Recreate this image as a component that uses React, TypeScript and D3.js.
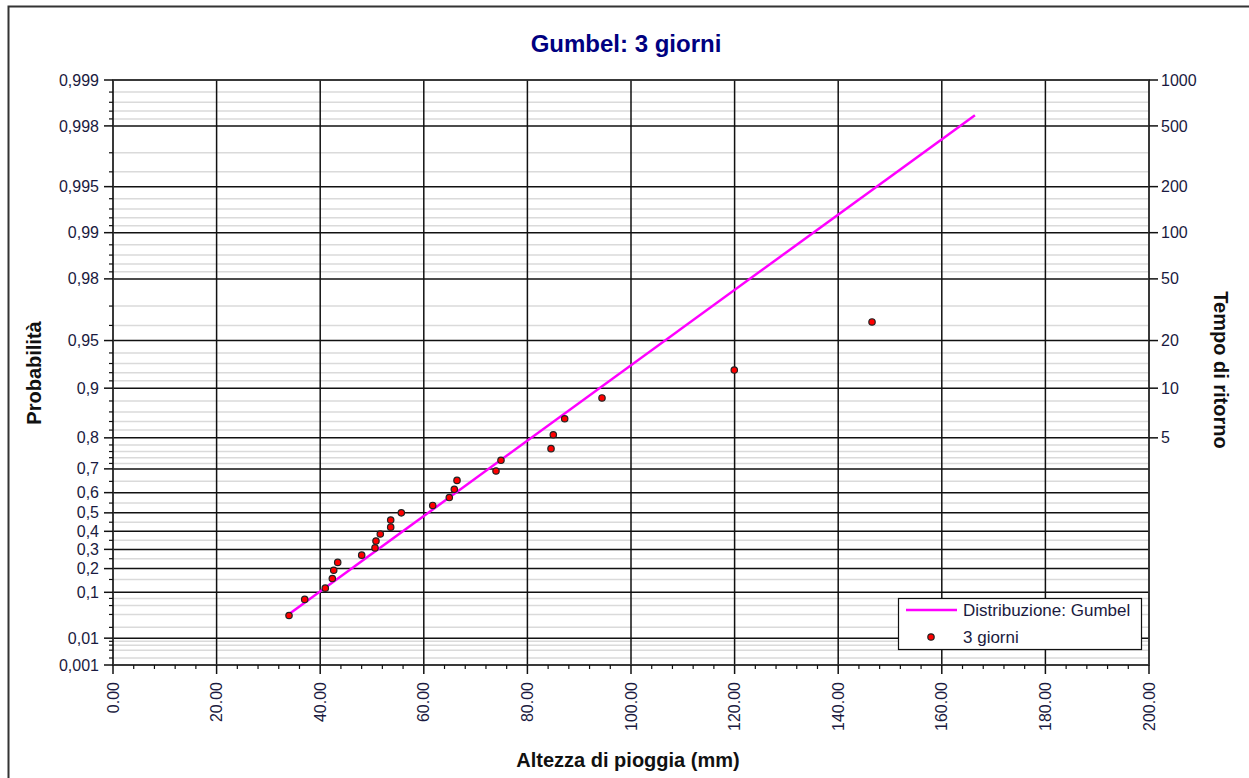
import React, { useRef, useEffect } from 'react';
import * as d3 from 'd3';

// observed rainfall heights (mm), sorted, with their plotting probabilities
const rainMm = [33.98, 37.01, 40.98, 42.34, 42.61, 43.38, 48.01, 50.58, 50.77, 51.6, 53.61, 53.61, 55.66,
  61.72, 64.92, 65.89, 66.41, 73.94, 74.9, 84.56, 85.0, 87.2, 94.4, 119.94, 146.53];
const rainProb = [0.038, 0.077, 0.115, 0.154, 0.192, 0.231, 0.269, 0.308, 0.346, 0.385, 0.423, 0.462, 0.5,
  0.538, 0.577, 0.615, 0.654, 0.692, 0.731, 0.769, 0.808, 0.846, 0.885, 0.923, 0.962];

// fitted Gumbel distribution (straight in this paper), ends of the drawn segment
const fitMm = [34.0, 166.4];
const fitProb = [0.041, 0.9983];

const majorProbs = [0.001, 0.01, 0.1, 0.2, 0.3, 0.4, 0.5, 0.6, 0.7, 0.8, 0.9, 0.95, 0.98, 0.99, 0.995, 0.998, 0.999];
const minorProbs = [0.002, 0.004, 0.006, 0.008, 0.02, 0.04, 0.06, 0.08, 0.15, 0.25, 0.35, 0.45, 0.55, 0.65,
  0.72, 0.74, 0.76, 0.78, 0.82, 0.84, 0.86, 0.88, 0.91, 0.92, 0.93, 0.94, 0.96, 0.97,
  0.982, 0.984, 0.986, 0.988, 0.991, 0.992, 0.993, 0.994, 0.996, 0.997, 0.9982, 0.9984, 0.9986, 0.9988];
const returnPeriods = [5, 10, 20, 50, 100, 200, 500, 1000];
const xTicks = [0, 20, 40, 60, 80, 100, 120, 140, 160, 180, 200];

const W = 1249;
const H = 778;
const FONT = "'Liberation Sans', Arial, sans-serif";

export default function App() {
  const svgRef = useRef<SVGSVGElement>(null);

  useEffect(() => {
    const svg = d3.select(svgRef.current);
    svg.selectAll('*').remove();

    const left = 113, right = 1149, top = 80, bottom = 665;
    const x = d3.scaleLinear().domain([0, 200]).range([left, right]);
    const gumbel = (p: number) => -Math.log(-Math.log(p));
    const yv = d3.scaleLinear().domain([gumbel(0.001), gumbel(0.999)]).range([bottom, top]);
    const y = (p: number) => yv(gumbel(p));

    svg.append('rect').attr('width', W).attr('height', H).attr('fill', '#fff');
    // outer frame
    svg.append('rect')
      .attr('x', 8.5).attr('y', 6.5).attr('width', W + 20).attr('height', H + 20)
      .attr('fill', 'none').attr('stroke', '#333').attr('stroke-width', 2);

    // minor horizontal grid
    svg.append('g').selectAll('line').data(minorProbs).join('line')
      .attr('x1', left).attr('x2', right)
      .attr('y1', d => y(d)).attr('y2', d => y(d))
      .attr('stroke', '#dadada').attr('stroke-width', 1.5);

    // major horizontal grid
    svg.append('g').selectAll('line').data(majorProbs).join('line')
      .attr('x1', left).attr('x2', right)
      .attr('y1', d => y(d)).attr('y2', d => y(d))
      .attr('stroke', '#111').attr('stroke-width', 1.5);

    // vertical grid
    svg.append('g').selectAll('line').data(xTicks).join('line')
      .attr('x1', d => x(d)).attr('x2', d => x(d))
      .attr('y1', top).attr('y2', bottom)
      .attr('stroke', '#111').attr('stroke-width', 1.5);

    // plot frame
    svg.append('rect')
      .attr('x', left).attr('y', top).attr('width', right - left).attr('height', bottom - top)
      .attr('fill', 'none').attr('stroke', '#333').attr('stroke-width', 1.5);

    // left axis
    const ly = svg.append('g');
    ly.selectAll('line.maj').data(majorProbs).join('line').attr('class', 'maj')
      .attr('x1', left - 9).attr('x2', left)
      .attr('y1', d => y(d)).attr('y2', d => y(d))
      .attr('stroke', '#111').attr('stroke-width', 1.5);
    ly.selectAll('line.min').data(minorProbs).join('line').attr('class', 'min')
      .attr('x1', left - 4).attr('x2', left)
      .attr('y1', d => y(d)).attr('y2', d => y(d))
      .attr('stroke', '#111').attr('stroke-width', 1.2);
    ly.selectAll('text').data(majorProbs).join('text')
      .attr('x', left - 14).attr('y', d => y(d)).attr('dy', '0.35em')
      .attr('text-anchor', 'end')
      .style('font', `16px ${FONT}`).attr('fill', '#1a1a40')
      .text(d => String(d).replace('.', ','));

    // right axis (return period)
    const ry = svg.append('g');
    ry.selectAll('line').data(returnPeriods).join('line')
      .attr('x1', right).attr('x2', right + 9)
      .attr('y1', d => y(1 - 1 / d)).attr('y2', d => y(1 - 1 / d))
      .attr('stroke', '#111').attr('stroke-width', 1.5);
    ry.selectAll('text').data(returnPeriods).join('text')
      .attr('x', right + 12).attr('y', d => y(1 - 1 / d)).attr('dy', '0.35em')
      .style('font', `16px ${FONT}`).attr('fill', '#1a1a40')
      .text(d => d);

    // bottom axis
    const bx = svg.append('g');
    bx.selectAll('line.maj').data(xTicks).join('line').attr('class', 'maj')
      .attr('x1', d => x(d)).attr('x2', d => x(d))
      .attr('y1', bottom).attr('y2', bottom + 9)
      .attr('stroke', '#111').attr('stroke-width', 1.5);
    bx.selectAll('line.min').data(d3.range(0, 201, 4).filter(v => v % 20 !== 0)).join('line').attr('class', 'min')
      .attr('x1', d => x(d)).attr('x2', d => x(d))
      .attr('y1', bottom).attr('y2', bottom + 4)
      .attr('stroke', '#111').attr('stroke-width', 1.2);
    bx.selectAll('text').data(xTicks).join('text')
      .attr('transform', d => `translate(${x(d)},682) rotate(-90)`)
      .attr('dy', '0.35em').attr('text-anchor', 'end')
      .style('font', `16px ${FONT}`).attr('fill', '#1a1a40')
      .text(d => d3.format('.2f')(d));

    // fitted line
    const line = d3.line<number>()
      .x((_, i) => x(fitMm[i]))
      .y(d => y(d));
    svg.append('path').datum(fitProb)
      .attr('d', line)
      .attr('fill', 'none').attr('stroke', '#ff00ff').attr('stroke-width', 2.5);

    // observations
    svg.append('g').selectAll('circle').data(rainMm).join('circle')
      .attr('cx', d => x(d)).attr('cy', (_, i) => y(rainProb[i]))
      .attr('r', 3.2)
      .attr('fill', '#ff0000').attr('stroke', '#222').attr('stroke-width', 1.2);

    // legend
    const lg = svg.append('g');
    lg.append('rect').attr('x', 898.5).attr('y', 598.5).attr('width', 243).attr('height', 51)
      .attr('fill', '#fff').attr('stroke', '#111').attr('stroke-width', 1.2);
    lg.append('line').attr('x1', 906).attr('x2', 957).attr('y1', 610).attr('y2', 610)
      .attr('stroke', '#ff00ff').attr('stroke-width', 2.5);
    lg.append('circle').attr('cx', 931).attr('cy', 637).attr('r', 3.2)
      .attr('fill', '#ff0000').attr('stroke', '#222').attr('stroke-width', 1.2);
    lg.append('text').attr('x', 963).attr('y', 610).attr('dy', '0.35em')
      .style('font', `17px ${FONT}`).attr('fill', '#1a1a40').text('Distribuzione: Gumbel');
    lg.append('text').attr('x', 963).attr('y', 637).attr('dy', '0.35em')
      .style('font', `17px ${FONT}`).attr('fill', '#1a1a40').text('3 giorni');

    // titles
    svg.append('text').attr('x', 626).attr('y', 52).attr('text-anchor', 'middle')
      .style('font', `bold 24px ${FONT}`).attr('fill', '#000080')
      .text('Gumbel: 3 giorni');
    svg.append('text').attr('x', 628).attr('y', 767).attr('text-anchor', 'middle')
      .style('font', `bold 20px ${FONT}`).attr('fill', '#111')
      .text('Altezza di pioggia (mm)');
    svg.append('text').attr('transform', 'translate(41,373) rotate(-90)').attr('text-anchor', 'middle')
      .style('font', `bold 20px ${FONT}`).attr('fill', '#111')
      .text('Probabilità');
    svg.append('text').attr('transform', 'translate(1214,370) rotate(90)').attr('text-anchor', 'middle')
      .style('font', `bold 20px ${FONT}`).attr('fill', '#111')
      .text('Tempo di ritorno');
  }, []);

  return (
    <svg
      ref={svgRef}
      width={W}
      height={H}
      style={{ position: 'absolute', left: 0, top: 0, display: 'block' }}
    />
  );
}
